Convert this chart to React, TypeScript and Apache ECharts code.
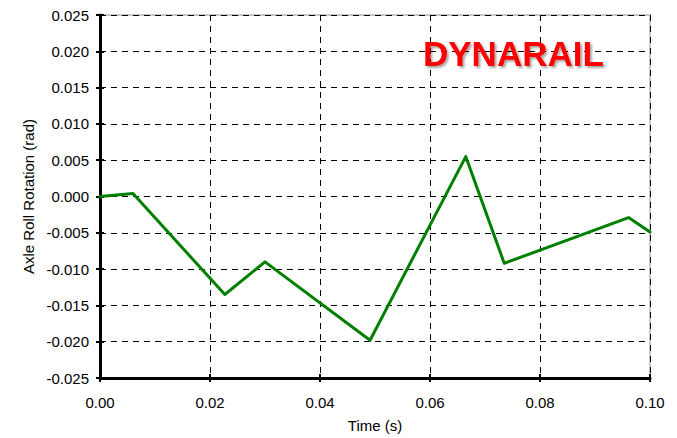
import React, { useEffect, useRef } from "react";
import * as echarts from "echarts";

const timeValues = [0, 0.006, 0.0227, 0.030, 0.0491, 0.0665, 0.0735, 0.0961, 0.1];
const rollValues = [0, 0.0004, -0.0135, -0.0090, -0.0198, 0.0055, -0.0092, -0.0029, -0.0049];
const xTicks = [0, 0.02, 0.04, 0.06, 0.08, 0.1];
const yTicks = [-0.025, -0.02, -0.015, -0.01, -0.005, 0, 0.005, 0.01, 0.015, 0.02, 0.025];

const FONT = "Liberation Sans, Arial, sans-serif";

export default function App() {
  const ref = useRef<HTMLDivElement>(null);
  useEffect(() => {
    if (!ref.current) return;
    const chart = echarts.init(ref.current, null, { renderer: "svg" });
    const data = timeValues.map((t, i) => [t, rollValues[i]]);
    const xMin = xTicks[0];
    const xMax = xTicks[xTicks.length - 1];
    const yMin = yTicks[0];
    const yMax = yTicks[yTicks.length - 1];
    const dash = { type: [6, 5] as any, color: "#000", width: 1 };
    chart.setOption({
      animation: false,
      backgroundColor: "#fff",
      grid: {
        left: 100,
        top: 15,
        right: 27,
        bottom: 57,
        show: true,
        borderColor: "#c8c8c8",
        borderWidth: 2,
        backgroundColor: "transparent",
      },
      xAxis: [
        {
          type: "value",
          min: xMin,
          max: xMax,
          interval: 0.02,
          name: "Time (s)",
          nameLocation: "middle",
          nameGap: 40,
          nameTextStyle: { fontFamily: FONT, fontSize: 15, color: "#000" },
          axisLine: { show: true, onZero: false, lineStyle: { color: "#000", width: 3 } },
          axisTick: { show: true, length: 4, lineStyle: { color: "#000", width: 2 } },
          axisLabel: {
            fontFamily: FONT,
            fontSize: 15,
            color: "#000",
            margin: 17,
            formatter: (v: number) => v.toFixed(2),
          },
          splitLine: { show: true, lineStyle: dash },
        },
        {
          type: "value",
          position: "bottom",
          min: xMin,
          max: xMax,
          interval: 0.02,
          axisLine: { show: false, onZero: false },
          axisTick: { show: true, inside: true, length: 4, lineStyle: { color: "#000", width: 2 } },
          axisLabel: { show: false },
          splitLine: { show: false },
        },
      ],
      yAxis: [
        {
          type: "value",
          min: yMin,
          max: yMax,
          interval: 0.005,
          name: "Axle Roll Rotation (rad)",
          nameLocation: "middle",
          nameGap: 61,
          nameTextStyle: { fontFamily: FONT, fontSize: 15, color: "#000" },
          axisLine: { show: true, onZero: false, lineStyle: { color: "#000", width: 3 } },
          axisTick: { show: true, length: 4, lineStyle: { color: "#000", width: 2 } },
          axisLabel: {
            fontFamily: FONT,
            fontSize: 15,
            color: "#000",
            margin: 11,
            formatter: (v: number) => v.toFixed(3),
          },
          splitLine: { show: true, lineStyle: dash },
        },
        {
          type: "value",
          position: "left",
          min: yMin,
          max: yMax,
          interval: 0.005,
          axisLine: { show: false, onZero: false },
          axisTick: { show: true, inside: true, length: 4, lineStyle: { color: "#000", width: 2 } },
          axisLabel: { show: false },
          splitLine: { show: false },
        },
      ],
      graphic: [
        {
          type: "text",
          left: 423,
          top: 36,
          z: 10,
          style: {
            text: "DYNARAIL",
            fontFamily: FONT,
            fontSize: 35,
            fontWeight: "bold",
            fill: "#ff0000",
            textShadowColor: "rgba(0,0,0,0.35)",
            textShadowOffsetX: 2,
            textShadowOffsetY: 2,
            textShadowBlur: 2,
          },
        },
      ],
      series: [
        {
          type: "line",
          data,
          showSymbol: false,
          symbol: "none",
          lineStyle: { color: "#008000", width: 3, join: "round", cap: "round" },
          z: 5,
        },
      ],
    });
    return () => chart.dispose();
  }, []);
  return <div ref={ref} style={{ width: 677, height: 438, position: "absolute", left: 0, top: 0 }} />;
}
